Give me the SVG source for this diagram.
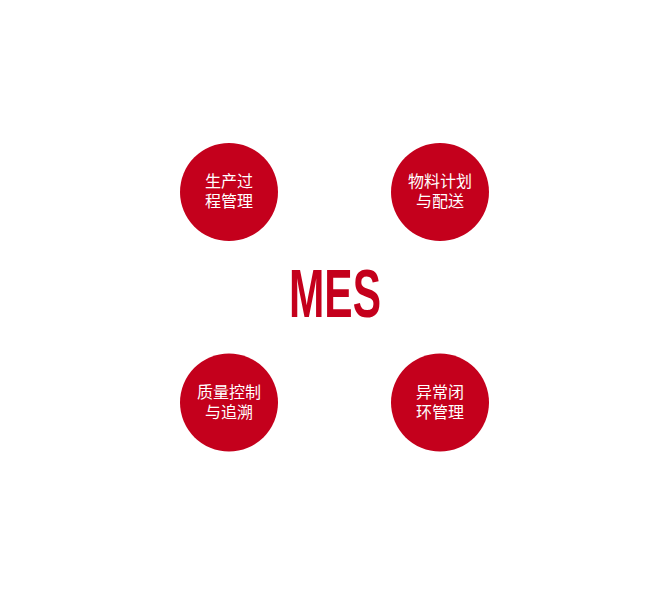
<svg xmlns="http://www.w3.org/2000/svg" width="667" height="594" viewBox="0 0 667 594">
<style>
.c{fill:#c4001c}
.t{fill:#ffffff;font-family:"Noto Sans CJK SC","Noto Sans",sans-serif;font-size:16px;text-anchor:middle}
.m{fill:#c4001c;font-family:"Liberation Sans Narrow","Liberation Sans",sans-serif;font-weight:bold;font-size:68px;text-anchor:middle}
</style>
<rect width="667" height="594" fill="#ffffff"/>
<g id="connectors"></g>
<g id="center"><text class="m" x="335" y="317" textLength="92" lengthAdjust="spacingAndGlyphs">MES</text></g>
<g id="node1"><circle class="c" cx="229" cy="192" r="49"/><text class="t" x="229" y="187">生产过</text><text class="t" x="229" y="207">程管理</text></g>
<g id="node2"><circle class="c" cx="440" cy="192" r="49"/><text class="t" x="440" y="187">物料计划</text><text class="t" x="440" y="207">与配送</text></g>
<g id="node3"><circle class="c" cx="229" cy="402.5" r="49"/><text class="t" x="229" y="397.5">质量控制</text><text class="t" x="229" y="417.5">与追溯</text></g>
<g id="node4"><circle class="c" cx="440" cy="402.5" r="49"/><text class="t" x="440" y="397.5">异常闭</text><text class="t" x="440" y="417.5">环管理</text></g>
</svg>
